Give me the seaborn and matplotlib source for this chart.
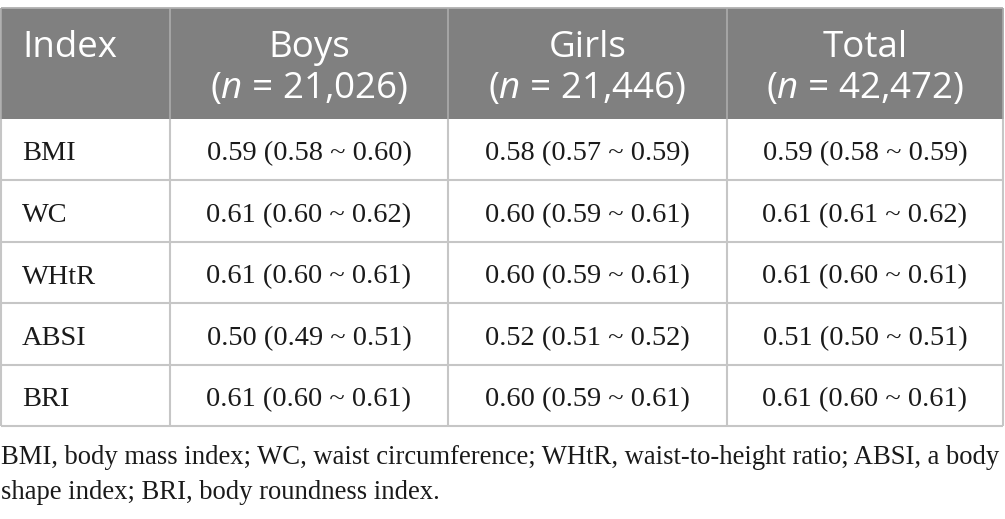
import matplotlib
matplotlib.use("Agg")
import matplotlib.pyplot as plt
import seaborn as sns

# table content
columns = ["Index", "Boys", "Girls", "Total"]
group_n = ["21,026", "21,446", "42,472"]
indices = ["BMI", "WC", "WHtR", "ABSI", "BRI"]
boys = ["0.59 (0.58 ~ 0.60)", "0.61 (0.60 ~ 0.62)", "0.61 (0.60 ~ 0.61)",
        "0.50 (0.49 ~ 0.51)", "0.61 (0.60 ~ 0.61)"]
girls = ["0.58 (0.57 ~ 0.59)", "0.60 (0.59 ~ 0.61)", "0.60 (0.59 ~ 0.61)",
         "0.52 (0.51 ~ 0.52)", "0.60 (0.59 ~ 0.61)"]
total = ["0.59 (0.58 ~ 0.59)", "0.61 (0.61 ~ 0.62)", "0.61 (0.60 ~ 0.61)",
         "0.51 (0.50 ~ 0.51)", "0.61 (0.60 ~ 0.61)"]
footnote = ["BMI, body mass index; WC, waist circumference; WHtR, waist-to-height ratio; ABSI, a body",
            "shape index; BRI, body roundness index."]

sns.set_theme(style="white")
plt.rcParams["mathtext.fontset"] = "custom"
plt.rcParams["mathtext.rm"] = "Open Sans"
plt.rcParams["mathtext.it"] = "Open Sans:italic"

fig = plt.figure(figsize=(10.05, 5.19), dpi=100)
ax = fig.add_axes([0, 0, 1, 1])
ax.set_xlim(0, 1005)
ax.set_ylim(519, 0)
ax.axis("off")

col_edges = [1, 170, 448, 727, 1003]
head_top, head_bot = 8, 118.5
row_h = 61.5
row_edges = [head_bot + i * row_h for i in range(len(indices) + 1)]

grid = "#c6c6c6"
head_bg = "#808080"

# header band
ax.fill_between([col_edges[0], col_edges[-1]], head_top, head_bot, color=head_bg, lw=0)
ax.vlines(col_edges[1:-1], head_top, head_bot, color="#a8a8a8", lw=1.3)
ax.hlines(head_top, col_edges[0], col_edges[-1], color="#b0b0b0", lw=1.3)

# body grid
ax.hlines(row_edges[1:], col_edges[0], col_edges[-1], color=grid, lw=1.5)
ax.vlines(col_edges, head_bot, row_edges[-1], color=grid, lw=1.5)
ax.vlines([col_edges[0], col_edges[-1]], head_top, head_bot, color="#a8a8a8", lw=1.3)

head_font = dict(family="Open Sans", fontsize=26.5, color="white")
ax.text(22, 57, columns[0], ha="left", va="baseline", **head_font)
for i, (name, n) in enumerate(zip(columns[1:], group_n)):
    cx = (col_edges[i + 1] + col_edges[i + 2]) / 2
    ax.text(cx, 57, name, ha="center", va="baseline", **head_font)
    ax.text(cx, 98, r"($\it{n}$ = " + n + ")", ha="center", va="baseline", **head_font)

body_font = dict(family="Liberation Serif", fontsize=20.4, color="#1a1a1a")
for r, (idx, b, g, t) in enumerate(zip(indices, boys, girls, total)):
    base = row_edges[r] + 42
    ax.text(22, base, idx, ha="left", va="baseline", **body_font)
    for c, val in enumerate([b, g, t]):
        cx = (col_edges[c + 1] + col_edges[c + 2]) / 2
        ax.text(cx, base, val, ha="center", va="baseline", **body_font)

foot_font = dict(family="Liberation Serif", fontsize=19.2, color="#1a1a1a")
for k, line in enumerate(footnote):
    ax.text(1, 464 + 35 * k, line, ha="left", va="baseline", **foot_font)

fig.savefig("out.png", dpi=100)
